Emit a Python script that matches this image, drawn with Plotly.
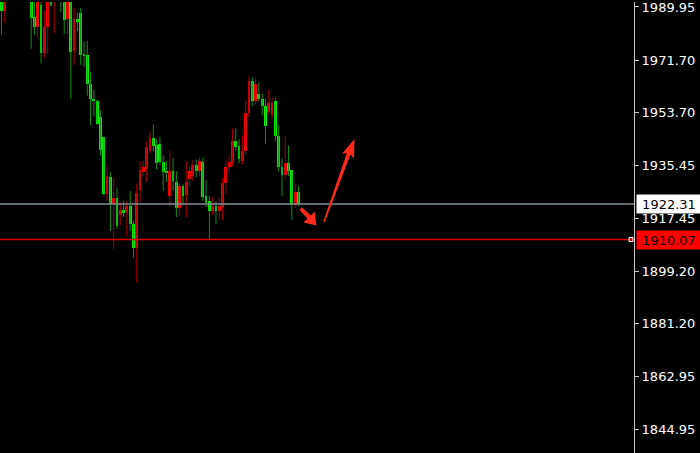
import plotly.graph_objects as go

# OHLC values (green = falling candle, red = rising candle)
opens = [1994.4, 1988.6, 1993.4, 1998.5, 2001.9, 2006.0, 2003.6, 2008.8, 2001.2, 1992.7,
         1986.5, 1983.1, 1990.6, 1974.2, 1983.1, 1991.7, 1992.7, 1996.5, 1996.8, 1992.7,
         1985.9, 1991.7, 1974.9, 1985.9, 1987.9, 1973.9, 1973.5, 1963.6, 1958.5, 1957.8,
         1952.0, 1945.2, 1925.7, 1931.5, 1922.2, 1924.3, 1918.5, 1920.2, 1919.5, 1921.6,
         1915.4, 1907.2, 1927.0, 1933.2, 1934.2, 1940.4, 1944.8, 1942.4, 1942.8, 1936.6,
         1933.5, 1925.0, 1933.5, 1929.8, 1920.9, 1928.4, 1925.3, 1930.8, 1931.8, 1935.6,
         1933.5, 1936.6, 1925.0, 1923.3, 1919.8, 1921.6, 1919.8, 1921.2, 1929.4, 1934.9,
         1936.3, 1943.8, 1942.1, 1936.9, 1940.4, 1953.4, 1964.6, 1957.5, 1960.2, 1958.5,
         1955.8, 1954.0, 1953.0, 1957.5, 1945.8, 1934.9, 1932.2, 1936.3, 1933.9, 1921.9,
         1926.3]
highs = [1996.8, 1995.1, 2000.6, 2004.0, 2008.1, 2009.4, 2010.8, 2009.4, 2002.5, 1994.4,
         1991.7, 1993.4, 1992.3, 1988.6, 1993.7, 1993.0, 1997.1, 1997.8, 1998.5, 1993.7,
         1992.7, 1992.3, 1989.6, 1987.9, 1989.6, 1978.0, 1978.3, 1967.7, 1961.6, 1958.1,
         1954.4, 1945.5, 1935.2, 1933.2, 1931.1, 1927.7, 1922.9, 1923.3, 1923.3, 1926.7,
         1916.4, 1929.4, 1936.9, 1936.9, 1943.8, 1946.9, 1949.6, 1944.5, 1945.2, 1939.0,
         1936.9, 1940.7, 1938.0, 1933.5, 1929.4, 1929.1, 1936.9, 1935.2, 1937.3, 1937.6,
         1938.3, 1938.3, 1930.4, 1925.0, 1924.6, 1923.3, 1924.3, 1931.1, 1937.6, 1938.7,
         1948.2, 1948.2, 1944.5, 1945.8, 1957.8, 1966.0, 1965.7, 1965.3, 1964.0, 1960.2,
         1958.5, 1961.6, 1958.8, 1958.8, 1949.3, 1938.0, 1945.5, 1942.4, 1933.9, 1929.1,
         1928.4]
lows = [1980.7, 1984.5, 1992.0, 1997.1, 2000.2, 2001.2, 2002.5, 1999.9, 1993.7, 1975.6,
        1980.4, 1979.4, 1970.5, 1972.5, 1973.9, 1990.0, 1981.1, 1992.7, 1988.2, 1980.7,
        1980.7, 1958.5, 1970.1, 1981.7, 1970.1, 1969.4, 1959.5, 1949.3, 1952.3, 1949.3,
        1939.0, 1925.3, 1923.3, 1913.0, 1906.8, 1913.7, 1915.1, 1917.8, 1911.3, 1913.0,
        1903.8, 1895.2, 1922.9, 1931.8, 1929.8, 1939.7, 1940.4, 1934.2, 1935.6, 1926.7,
        1929.8, 1921.6, 1926.7, 1917.8, 1918.1, 1921.9, 1917.8, 1928.4, 1930.1, 1931.5,
        1931.8, 1923.3, 1921.2, 1910.3, 1918.5, 1915.4, 1916.8, 1916.8, 1925.7, 1933.5,
        1935.2, 1940.4, 1936.3, 1935.9, 1939.3, 1952.3, 1955.8, 1956.4, 1957.5, 1952.7,
        1943.1, 1953.0, 1951.3, 1943.8, 1933.5, 1925.0, 1930.8, 1931.8, 1916.8, 1920.9,
        1921.6]
closes = [1988.6, 1993.4, 1998.5, 2001.9, 2006.0, 2003.6, 2008.8, 2001.2, 1995.1, 1986.2,
          1983.1, 1992.3, 1974.2, 1983.1, 1992.3, 1990.6, 1995.8, 1993.4, 1992.7, 1985.5,
          1991.7, 1974.6, 1985.9, 1984.8, 1973.5, 1973.2, 1963.6, 1958.5, 1957.5, 1949.9,
          1940.7, 1925.7, 1931.8, 1922.2, 1924.3, 1914.7, 1920.2, 1919.2, 1921.6, 1915.4,
          1907.2, 1926.0, 1933.9, 1934.9, 1941.7, 1944.8, 1942.1, 1936.3, 1936.6, 1933.2,
          1932.8, 1933.5, 1930.1, 1920.9, 1928.4, 1925.0, 1929.8, 1933.5, 1935.6, 1933.5,
          1936.9, 1924.6, 1922.6, 1919.8, 1921.6, 1919.8, 1921.6, 1929.4, 1934.9, 1936.6,
          1943.8, 1941.7, 1937.6, 1940.4, 1953.4, 1964.6, 1957.8, 1963.6, 1958.5, 1955.8,
          1948.9, 1957.1, 1957.1, 1945.5, 1934.9, 1932.2, 1936.3, 1933.5, 1921.9, 1926.3,
          1922.3]

tick_values = [1989.95, 1971.70, 1953.70, 1935.45, 1917.45, 1899.20, 1881.20, 1862.95, 1844.95]
tick_labels = ["1989.95", "1971.70", "1953.70", "1935.45", "1917.45", "1899.20", "1881.20", "1862.95", "1844.95"]
bid_price = 1922.31
level_price = 1910.07
y_range = [1836.73, 1991.66]

UP_BODY, UP_WICK = "#f20000", "#a80000"
DN_BODY, DN_WICK = "#00ee00", "#138f13"

n = len(opens)
xs = list(range(n))

fig = go.Figure()

def wick_trace(idx, color):
    wx, wy = [], []
    for i in idx:
        wx += [i, i, None]
        wy += [lows[i], highs[i], None]
    return go.Scatter(x=wx, y=wy, mode="lines", line=dict(color=color, width=1),
                      hoverinfo="skip", showlegend=False)

up = [i for i in xs if closes[i] >= opens[i]]
dn = [i for i in xs if closes[i] < opens[i]]

fig.add_trace(wick_trace(up, UP_WICK))
fig.add_trace(wick_trace(dn, DN_WICK))

def body_trace(idx, color):
    base = [min(opens[i], closes[i]) for i in idx]
    h = [max(abs(closes[i] - opens[i]), 0.4) for i in idx]
    return go.Bar(x=idx, y=h, base=base, width=0.85, marker=dict(color=color, line=dict(width=0)),
                  showlegend=False, hoverinfo="skip")

fig.add_trace(body_trace(up, UP_BODY))
fig.add_trace(body_trace(dn, DN_BODY))

W, H = 700, 453
PW = 634  # plot area width in px

def P(px, py):
    return px / PW, 1 - py / H

def path(points):
    s = ""
    for k, (px, py) in enumerate(points):
        x, y = P(px, py)
        s += ("M" if k == 0 else "L") + f"{x:.5f},{y:.5f} "
    return s + "Z"

shapes = [
    dict(type="line", xref="paper", yref="y", x0=0, x1=1, y0=bid_price, y1=bid_price,
         line=dict(color="#828c97", width=1.5)),
    dict(type="line", xref="paper", yref="y", x0=0, x1=1, y0=level_price, y1=level_price,
         line=dict(color="#dd0000", width=1.5)),
    dict(type="rect", xref="paper", yref="y", x0=629 / PW, x1=633 / PW,
         y0=level_price - 0.7, y1=level_price + 0.7, line=dict(color="#ffffff", width=1),
         fillcolor="#d00000"),
]

# big arrow (up-right) and small arrow (down-right), decorative
big = [(323.2, 221), (324.8, 221), (350.4, 153.2), (354.0, 157.0), (354.5, 137.5),
       (342.0, 152.5), (346.8, 151.8)]
small = [(299.5, 209), (302, 206.5), (311, 214.5), (314.5, 210.5), (316.5, 224.5),
         (303.5, 221.5), (307.5, 217.5)]
for pts in (big, small):
    shapes.append(dict(type="path", xref="paper", yref="paper", path=path(pts),
                       fillcolor="#ff2a1a", line=dict(width=0)))

annotations = [
    dict(xref="paper", yref="y", x=1, y=bid_price, xanchor="left", yanchor="middle",
         xshift=2, text="1922.31", showarrow=False, bgcolor="#ffffff",
         font=dict(color="#000000", size=13, family="DejaVu Sans"),
         width=64, height=18, align="center", borderpad=0),
    dict(xref="paper", yref="y", x=1, y=level_price, xanchor="left", yanchor="middle",
         xshift=2, text="1910.07", showarrow=False, bgcolor="#ff0000",
         font=dict(color="#000000", size=13, family="DejaVu Sans"),
         width=64, height=18, align="center", borderpad=0),
]

fig.update_layout(
    width=W, height=H,
    margin=dict(l=0, r=W - PW, t=0, b=0),
    paper_bgcolor="#000000", plot_bgcolor="#000000",
    barmode="overlay", bargap=0,
    showlegend=False,
    shapes=shapes, annotations=annotations,
    xaxis=dict(range=[-0.45, 191.67], visible=False, fixedrange=True),
    yaxis=dict(range=y_range, side="right", tickvals=tick_values, ticktext=tick_labels,
               showgrid=False, zeroline=False, showline=True, linecolor="#c8c8c8", linewidth=1,
               ticks="outside", ticklen=4, tickcolor="#c8c8c8", ticklabeloverflow="allow",
               tickfont=dict(color="#ffffff", size=13, family="DejaVu Sans")),
    font=dict(family="DejaVu Sans"),
)

fig.write_html("out.html", config={"displayModeBar": False},
               post_script="document.body.style.margin='0';document.body.style.overflow='hidden';")
